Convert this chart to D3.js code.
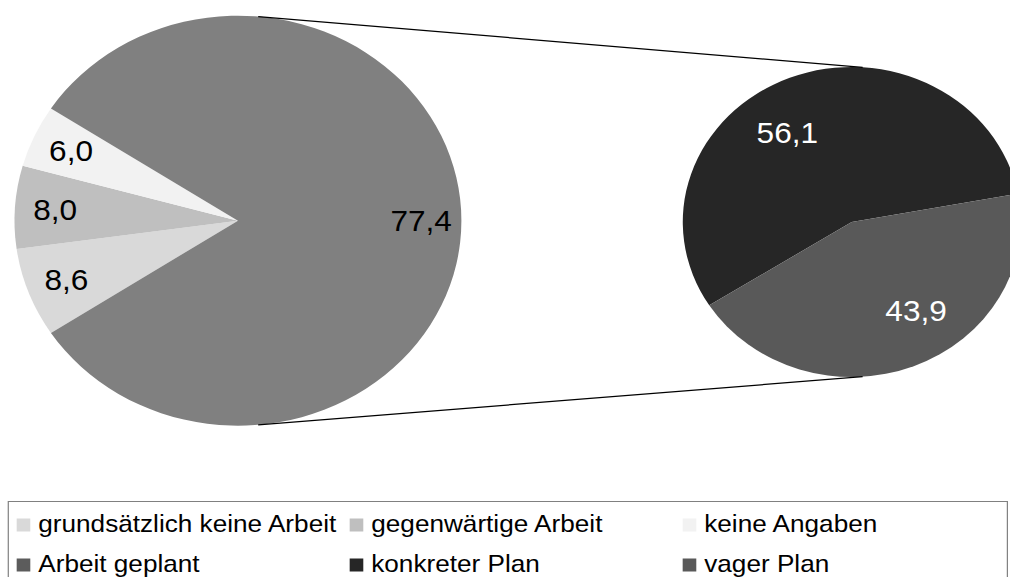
<!DOCTYPE html>
<html>
<head>
<meta charset="utf-8">
<script src="https://cdn.jsdelivr.net/npm/d3@7"></script>
<style>
  body { margin: 0; background: #fff; }
  svg { display: block; font-family: "Liberation Sans", Arial, sans-serif; }
</style>
</head>
<body>
<svg width="1010" height="577"></svg>
<script>
// primary pie: three single slices + the "other" slice (Arbeit geplant)
const mainNames = ["grundsätzlich keine Arbeit", "gegenwärtige Arbeit", "keine Angaben"];
const mainValues = [8.6, 8.0, 6.0];
const otherName = "Arbeit geplant";
const otherValue = 77.4;

// secondary pie: split of "Arbeit geplant"
const subNames = ["konkreter Plan", "vager Plan"];
const subValues = [56.1, 43.9];

const legendOrder = ["grundsätzlich keine Arbeit", "gegenwärtige Arbeit", "keine Angaben",
                     "Arbeit geplant", "konkreter Plan", "vager Plan"];

const sliceColor = {
  "grundsätzlich keine Arbeit": "#d9d9d9",
  "gegenwärtige Arbeit": "#bfbfbf",
  "keine Angaben": "#f2f2f2",
  "Arbeit geplant": "#808080",
  "konkreter Plan": "#262626",
  "vager Plan": "#595959"
};
const legendColor = Object.assign({}, sliceColor, {"Arbeit geplant": "#5c5c5c"});

const fmt = v => d3.format(".1f")(v).replace(".", ",");
const rad = deg => deg * Math.PI / 180;

const stretch = 1.09;
let svg = d3.select("svg");
let root = svg.append("g").attr("transform", `scale(${stretch},1)`);

// ---- left pie (other slice drawn as the sum of the secondary pie)
const left = {cx: 218.3, cy: 220.7, r: 205};
const otherSize = d3.sum(subValues);
let leftData = mainNames.map((n, i) => ({name: n, size: mainValues[i], label: mainValues[i]}));
leftData.push({name: otherName, size: otherSize, label: otherValue});

const smallSum = d3.sum(mainValues);
const total = smallSum + otherSize;
const leftStart = 1.5 * Math.PI - Math.PI * smallSum / total;

let leftPie = d3.pie().sort(null).value(d => d.size)
  .startAngle(leftStart).endAngle(leftStart + 2 * Math.PI);
let leftArc = d3.arc().innerRadius(0).outerRadius(left.r);

let lg = root.append("g").attr("transform", `translate(${left.cx},${left.cy})`);
let leftArcs = leftPie(leftData);
lg.selectAll("path").data(leftArcs).enter().append("path")
  .attr("d", leftArc)
  .attr("fill", d => sliceColor[d.data.name]);

lg.selectAll("text").data(leftArcs).enter().append("text")
  .attr("x", d => left.r * 0.82 * Math.sin((d.startAngle + d.endAngle) / 2))
  .attr("y", d => -left.r * 0.82 * Math.cos((d.startAngle + d.endAngle) / 2))
  .attr("text-anchor", "middle")
  .attr("dominant-baseline", "central")
  .attr("font-size", 29)
  .attr("fill", "#000")
  .text(d => fmt(d.data.label));

// ---- right pie
const right = {cx: 781.4, cy: 222, r: 155};
const rightStart = rad(237.5);
let subData = subNames.map((n, i) => ({name: n, size: subValues[i]}));
let rightPie = d3.pie().sort(null).value(d => d.size)
  .startAngle(rightStart).endAngle(rightStart + 2 * Math.PI);
let rightArc = d3.arc().innerRadius(0).outerRadius(right.r);

let rg = root.append("g").attr("transform", `translate(${right.cx},${right.cy})`);
let rightArcs = rightPie(subData);
rg.selectAll("path").data(rightArcs).enter().append("path")
  .attr("d", rightArc)
  .attr("fill", d => sliceColor[d.data.name]);

const labelTurn = rad(-12);
rg.selectAll("text").data(rightArcs).enter().append("text")
  .attr("x", d => right.r * 0.69 * Math.sin((d.startAngle + d.endAngle) / 2 + labelTurn))
  .attr("y", d => -right.r * 0.69 * Math.cos((d.startAngle + d.endAngle) / 2 + labelTurn))
  .attr("text-anchor", "middle")
  .attr("dominant-baseline", "central")
  .attr("font-size", 29)
  .attr("fill", "#fff")
  .text(d => fmt(d.data.size));

// ---- connector lines
const leftTouch = rad(5.2), rightTouch = rad(3.7);
[1, -1].forEach(s => {
  root.append("line")
    .attr("x1", left.cx + left.r * Math.sin(leftTouch))
    .attr("y1", left.cy - s * left.r * Math.cos(leftTouch))
    .attr("x2", right.cx + right.r * Math.sin(rightTouch))
    .attr("y2", right.cy - s * right.r * Math.cos(rightTouch))
    .attr("stroke", "#000")
    .attr("stroke-width", 1.3)
    .attr("vector-effect", "non-scaling-stroke");
});

// ---- legend
let legend = root.append("g").attr("id", "legend");
legend.append("rect")
  .attr("x", 7.6).attr("y", 501.5)
  .attr("width", 916.6).attr("height", 100)
  .attr("fill", "none")
  .attr("stroke", "#808080")
  .attr("stroke-width", 1.2)
  .attr("vector-effect", "non-scaling-stroke");

let items = legend.selectAll("g.item").data(legendOrder).enter().append("g")
  .attr("class", "item")
  .attr("transform", (d, i) => `translate(${15.3 + (i % 3) * 305.5},${518.5 + Math.floor(i / 3) * 40})`);
items.append("rect")
  .attr("width", 12.5).attr("height", 13)
  .attr("fill", d => legendColor[d]);
items.append("text")
  .attr("x", 19.8).attr("y", 13.5)
  .attr("font-size", 24)
  .attr("fill", "#000")
  .text(d => d);
</script>
</body>
</html>
